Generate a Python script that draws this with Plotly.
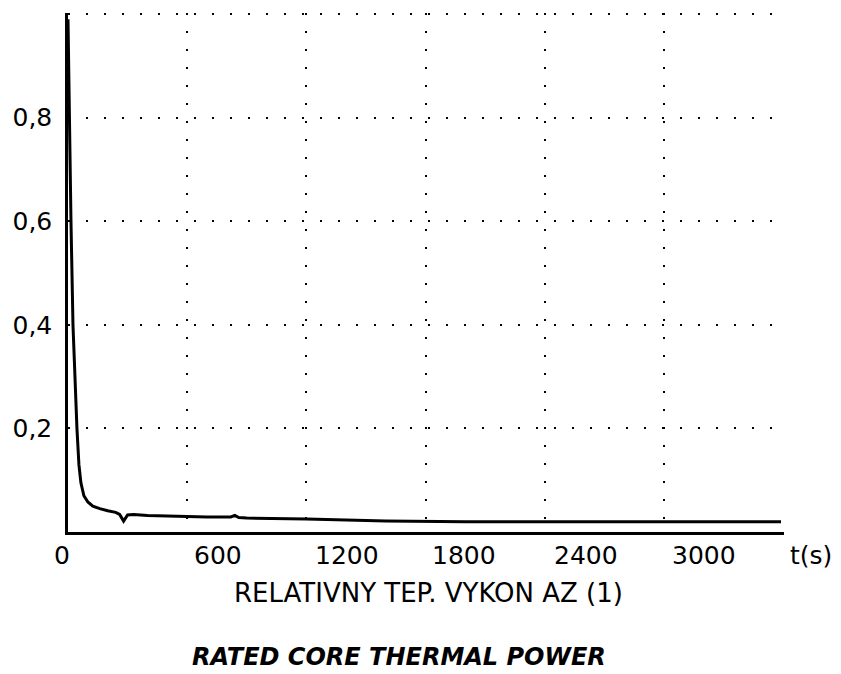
import plotly.graph_objects as go

# ---- data ----
t_s = [0, 3, 8, 15, 25, 35, 45, 55, 65, 80, 100, 125, 160, 200, 240, 260,
       280, 300, 330, 400, 550, 700, 820, 840, 860, 900, 1200, 1600, 2000,
       2400, 3000, 3590]
power = [0.99, 0.90, 0.75, 0.60, 0.40, 0.28, 0.20, 0.13, 0.095, 0.070,
         0.058, 0.050, 0.045, 0.041, 0.038, 0.034, 0.021, 0.033, 0.034,
         0.032, 0.030, 0.029, 0.029, 0.032, 0.028, 0.027, 0.025, 0.021,
         0.020, 0.020, 0.020, 0.020]

x_grid_vals = [600, 1200, 1800, 2400, 3000, 3600]
x_tick_vals = [0, 600, 1200, 1800, 2400, 3000]
x_tick_text = ["0", "600", "1200", "1800", "2400", "3000"]
x_unit_text = "t(s)"
y_tick_vals = [0.2, 0.4, 0.6, 0.8, 1.0]
y_tick_text = ["0,2", "0,4", "0,6", "0,8", ""]
title_cz = "RELATIVNY TEP. VYKON AZ (1)"
title_en = "RATED CORE THERMAL POWER"

# ---- styles ----
FONT = "DejaVu Sans"
label_xshift = [-6, 31, 41, 38, 41, 40]

fig = go.Figure()
fig.add_trace(go.Scatter(x=t_s, y=power, mode="lines",
                         line=dict(color="black", width=3),
                         hoverinfo="skip", showlegend=False))

annotations = []
for v, txt, dx in zip(x_tick_vals, x_tick_text, label_xshift):
    annotations.append(dict(x=v, y=0, xref="x", yref="y", text=txt,
                            showarrow=False, xanchor="center", yanchor="middle",
                            xshift=dx, yshift=-23,
                            font=dict(family=FONT, size=25, color="black")))
annotations.append(dict(x=3600, y=0, xref="x", yref="y", text=x_unit_text,
                        showarrow=False, xanchor="center", yanchor="middle",
                        xshift=28, yshift=-23,
                        font=dict(family=FONT, size=25, color="black")))
annotations.append(dict(x=0.504, y=-0.118, xref="paper", yref="paper",
                        text=title_cz, showarrow=False, xanchor="center",
                        yanchor="middle",
                        font=dict(family=FONT, size=26, color="black")))
annotations.append(dict(x=0.462, y=-0.241, xref="paper", yref="paper",
                        text="<b><i>" + title_en + "</i></b>", showarrow=False,
                        xanchor="center", yanchor="middle",
                        font=dict(family=FONT, size=24, color="black")))

fig.update_layout(
    width=841, height=674,
    margin=dict(l=68, r=57, t=13, b=142, pad=0),
    paper_bgcolor="white", plot_bgcolor="white",
    showlegend=False,
    annotations=annotations,
    xaxis=dict(range=[0, 3605], tickvals=x_grid_vals, showticklabels=False,
               showgrid=True, gridcolor="black", gridwidth=1.6,
               griddash="2px,16px", zeroline=False, automargin=False,
               showline=True, linecolor="black", linewidth=2.5, ticks=""),
    yaxis=dict(range=[0, 1.002], tickvals=y_tick_vals, ticktext=y_tick_text,
               showgrid=True, gridcolor="black", gridwidth=1.6,
               griddash="2px,16px", zeroline=False, automargin=False,
               showline=True, linecolor="black", linewidth=2.5, ticks="",
               ticklabelstandoff=8,
               tickfont=dict(family=FONT, size=25, color="black")),
)

fig.write_html("out.html")
